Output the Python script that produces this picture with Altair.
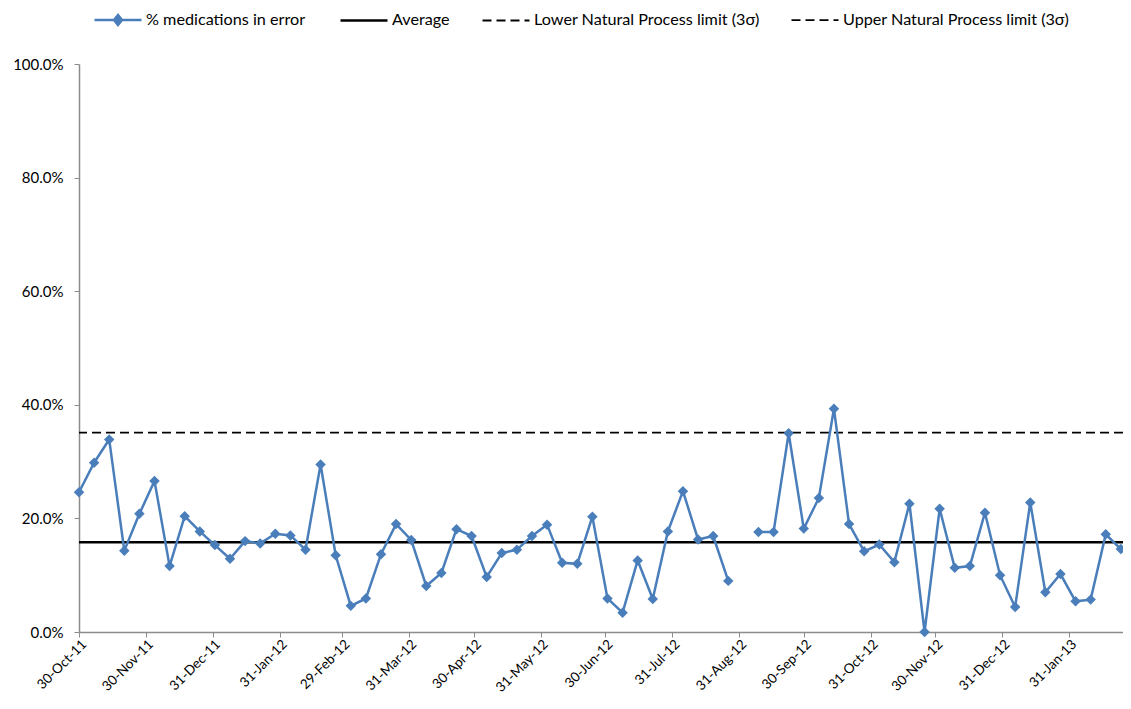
import altair as alt
import pandas as pd

# ---- data (weekly, starting 30-Oct-2011) ----
start_date = "2011-10-30"
pct_in_error = [
    24.6, 29.8, 33.9, 14.3, 20.8, 26.6, 11.6, 20.4, 17.7, 15.3,
    12.9, 16.0, 15.6, 17.3, 17.0, 14.5, 29.5, 13.5, 4.6, 5.9,
    13.7, 19.0, 16.2, 8.1, 10.4, 18.1, 16.9, 9.7, 13.9, 14.5,
    16.9, 18.9, 12.2, 12.0, 20.3, 5.9, 3.4, 12.6, 5.8, 17.7,
    24.8, 16.3, 16.9, 9.0, None, 17.6, 17.6, 35.0, 18.2, 23.6,
    39.3, 19.0, 14.2, 15.4, 12.3, 22.6, 0.0, 21.7, 11.3, 11.6,
    21.0, 10.0, 4.4, 22.8, 7.0, 10.2, 5.4, 5.7, 17.2, 14.6,
]
average = 15.8
lower_limit = -3.5
upper_limit = 35.1

series_main = "% medications in error"
series_limits = [
    "Average",
    "Lower Natural Process limit (3\u03c3)",
    "Upper Natural Process limit (3\u03c3)",
]
tick_dates = [
    (2011, 10, 30), (2011, 11, 30), (2011, 12, 31), (2012, 1, 31),
    (2012, 2, 29), (2012, 3, 31), (2012, 4, 30), (2012, 5, 31),
    (2012, 6, 30), (2012, 7, 31), (2012, 8, 31), (2012, 9, 30),
    (2012, 10, 31), (2012, 11, 30), (2012, 12, 31), (2013, 1, 31),
]
y_ticks = [0, 0.2, 0.4, 0.6, 0.8, 1.0]

# ---- build tables ----
dates = pd.date_range(start_date, periods=len(pct_in_error), freq="7D")
rows = []
seg = 0
for d, v in zip(dates, pct_in_error):
    if v is None:
        seg += 1
        continue
    rows.append({"date": d.strftime("%Y-%m-%d"), "value": v / 100.0, "seg": seg})
main = pd.DataFrame(rows)

limits = pd.DataFrame({
    "series": series_limits,
    "value": [average / 100.0, lower_limit / 100.0, upper_limit / 100.0],
})
# a single off-scale row that only feeds the legend entry of the main series
legend_row = pd.DataFrame({"series": [series_main], "date": [main["date"].iloc[0]], "value": [-1.0]})

BLUE = "#4A7EBB"
AXIS_GRAY = "#8C8C8C"
FONT = "Lato"

x_scale = alt.Scale(
    type="utc",
    domain=[alt.DateTime(year=2011, month=10, date=30, utc=True),
            alt.DateTime(year=2013, month=2, date=25, utc=True)],
)
y_scale = alt.Scale(domain=[0, 1])

x_axis = alt.Axis(
    values=[alt.DateTime(year=y, month=m, date=d, utc=True) for (y, m, d) in tick_dates],
    labelExpr="utcFormat(datum.value, '%d-%b-%y')",
    labelAngle=-45, labelAlign="right", labelBaseline="top",
    labelFont=FONT, labelFontSize=13.5, labelColor="black", labelPadding=0,
    tickSize=5, tickColor=AXIS_GRAY, domainColor=AXIS_GRAY, domainWidth=1.5,
    grid=False, title=None, labelOverlap=False, labelFlush=False,
)
y_axis = alt.Axis(
    values=y_ticks, format=".1%",
    labelFont=FONT, labelFontSize=15, labelColor="black", labelPadding=11,
    tickSize=5, tickColor=AXIS_GRAY, domainColor=AXIS_GRAY, domainWidth=1.5,
    grid=False, title=None,
)

X = alt.X("date:T", scale=x_scale, axis=x_axis)
Y = alt.Y("value:Q", scale=y_scale, axis=y_axis)

line = alt.Chart(main).mark_line(color=BLUE, strokeWidth=2.5).encode(
    x=X, y=Y, detail="seg:N"
)
points = alt.Chart(main).mark_point(
    shape="diamond", filled=True, color=BLUE, size=110, opacity=1
).encode(x="date:T", y="value:Q")

# legend symbol: a line with a stroke-filled diamond in the middle
diamond_line = ("M-1,0H1"
                "M-0.17,0L0,-0.21L0.17,0L0,0.21Z"
                "M-0.09,0L0,-0.11L0.09,0L0,0.11Z"
                "M-0.03,0H0.03")
legend_main = alt.Legend(
    orient="none", title=None, legendX=14, legendY=-69, padding=0,
    symbolSize=2209, symbolStrokeWidth=2.5,
    symbolStrokeColor=BLUE, symbolOpacity=1,
    labelFont=FONT, labelFontSize=16.2, labelColor="black",
    labelLimit=400, labelOffset=3,
)
legend_layer = alt.Chart(legend_row).mark_point(
    filled=False, color=BLUE, strokeWidth=2.5, clip=True
).encode(
    x="date:T", y="value:Q",
    shape=alt.Shape("series:N", legend=legend_main,
                    scale=alt.Scale(domain=[series_main], range=[diamond_line])),
)

legend_limits = alt.Legend(
    orient="none", direction="horizontal", columns=3, title=None,
    legendX=260, legendY=-69, padding=0,
    symbolType="M-1,0H1", symbolSize=2209, symbolStrokeWidth=2.2,
    symbolStrokeColor="black", symbolOpacity=1,
    labelFont=FONT, labelFontSize=16.2, labelColor="black",
    labelLimit=400, labelOffset=3, columnPadding=28,
)
rules = alt.Chart(limits).mark_rule(color="black", clip=True).encode(
    y="value:Q",
    strokeWidth=alt.StrokeWidth("series:N", legend=None,
                                scale=alt.Scale(domain=series_limits, range=[2.5, 1.6, 1.6])),
    strokeDash=alt.StrokeDash("series:N", legend=legend_limits,
                              scale=alt.Scale(domain=series_limits,
                                              range=[[1, 0], [9, 5], [9, 5]])),
)

chart = alt.layer(rules, line, points, legend_layer).properties(
    width=1044, height=568,
    autosize=alt.AutoSizeParams(type="none"),
    padding={"left": 71, "top": 56, "right": 0, "bottom": 64},
).configure_view(stroke=None)

chart.save("out.html", embed_options={"renderer": "svg", "actions": False})
